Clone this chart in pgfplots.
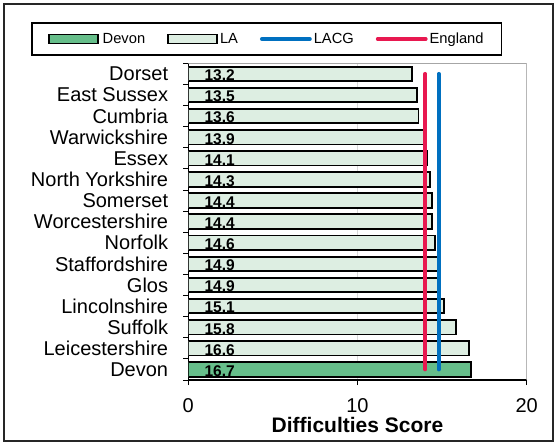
\documentclass[border=0pt]{standalone}
\usepackage{fontspec}
\setmainfont{Liberation Sans}
\usepackage{pgfplots}
\pgfplotsset{compat=1.18}
\definecolor{devongreen}{RGB}{102,190,138}
\definecolor{lagreen}{RGB}{221,238,226}
\definecolor{lacgblue}{RGB}{0,112,192}
\definecolor{engred}{RGB}{232,24,80}
\begin{document}
\begin{tikzpicture}
\useasboundingbox (0,0) rectangle (557bp,445bp);
\draw[black!85, line width=1.2bp] (4bp,4bp) rectangle (553bp,441bp);
\begin{axis}[
  at={(188.3bp,65bp)}, anchor=south west,
  width=338.4bp, height=316.7bp, scale only axis,
  xbar, bar width=14.5bp,
  xmin=0, xmax=20, ymin=-0.5, ymax=14.5,
  xtick={0,10,20},
  ytick={0,...,14},
  yticklabels={Devon,Leicestershire,Suffolk,Lincolnshire,Glos,Staffordshire,Norfolk,Worcestershire,Somerset,North Yorkshire,Essex,Warwickshire,Cumbria,East Sussex,Dorset},
  minor ytick={-0.5,0.5,...,14.5},
  major tick length=5bp,
  minor tick length=5bp,
  tick align=outside,
  tick style={black, line width=0.8bp},
  every major y tick/.append style={draw=none},
  axis x line*=bottom, axis y line*=left,
  axis line style={black, line width=1.2bp, -},
  xmajorgrids, grid style={gray!30, line width=0.6bp},
  /pgf/number format/assume math mode=true,
  ticklabel style={font=\fontsize{20bp}{22bp}\selectfont, inner sep=0pt},
  yticklabel style={xshift=-15bp},
  xticklabel style={yshift=-13bp},
  xlabel={Difficulties Score},
  xlabel style={font=\fontsize{21bp}{24bp}\selectfont\bfseries, anchor=north, inner sep=0pt, at={(axis description cs:0.5,0)}, yshift=-37bp},
  legend columns=4,
  legend style={at={(rel axis cs:0.2318,1.0767)}, anchor=center, draw=black, line width=1.6bp,
    font=\fontsize{14.7bp}{17bp}\selectfont, inner xsep=16bp, inner ysep=8bp,
    nodes={inner sep=2bp}},
  legend cell align=left,
]
\addplot[fill=devongreen, draw=black, line width=1.8bp, bar shift=0pt,
  legend image code/.code={\draw[fill=devongreen, draw=black, line width=1.8bp] (0bp,-4.5bp) rectangle (49bp,4.5bp);}]
  coordinates {(16.7,0)};
\addlegendentry{\hspace*{2bp}Devon\hspace*{20bp}}
\addplot[fill=lagreen, draw=black, line width=1.8bp, bar shift=0pt,
  legend image code/.code={\draw[fill=lagreen, draw=black, line width=1.8bp] (0bp,-4.5bp) rectangle (49bp,4.5bp);}]
  coordinates {(16.6,1) (15.8,2) (15.1,3) (14.9,4) (14.9,5) (14.6,6) (14.4,7) (14.4,8) (14.3,9) (14.1,10) (13.9,11) (13.6,12) (13.5,13) (13.2,14)};
\addlegendentry{LA\hspace*{20bp}}
\addplot[draw=lacgblue, line width=3.8bp, line cap=round, mark=none, sharp plot,
  legend image code/.code={\draw[lacgblue, line width=3.8bp, line cap=round] (2bp,0bp) -- (50bp,0bp);}]
  coordinates {(14.8,0) (14.8,14)};
\addlegendentry{LACG\hspace*{20bp}}
\addplot[draw=engred, line width=3.8bp, line cap=round, mark=none, sharp plot,
  legend image code/.code={\draw[engred, line width=3.8bp, line cap=round] (2bp,0bp) -- (50bp,0bp);}]
  coordinates {(14.0,0) (14.0,14)};
\addlegendentry{England}
\addplot[only marks, mark=none, point meta=explicit,
  nodes near coords={\pgfmathprintnumber[fixed,precision=1,fixed zerofill]{\pgfplotspointmeta}},
  nodes near coords style={anchor=center, font=\fontsize{15.5bp}{17bp}\selectfont\bfseries, yshift=-1.5bp, /pgf/number format/assume math mode=true}]
  coordinates {(1.85,0) [16.7] (1.85,1) [16.6] (1.85,2) [15.8] (1.85,3) [15.1] (1.85,4) [14.9] (1.85,5) [14.9] (1.85,6) [14.6] (1.85,7) [14.4] (1.85,8) [14.4] (1.85,9) [14.3] (1.85,10) [14.1] (1.85,11) [13.9] (1.85,12) [13.6] (1.85,13) [13.5] (1.85,14) [13.2]};
\draw[gray!70, line width=1.4bp] (rel axis cs:0,1) -- (rel axis cs:1,1) -- (rel axis cs:1,0);
\end{axis}
\end{tikzpicture}
\end{document}
